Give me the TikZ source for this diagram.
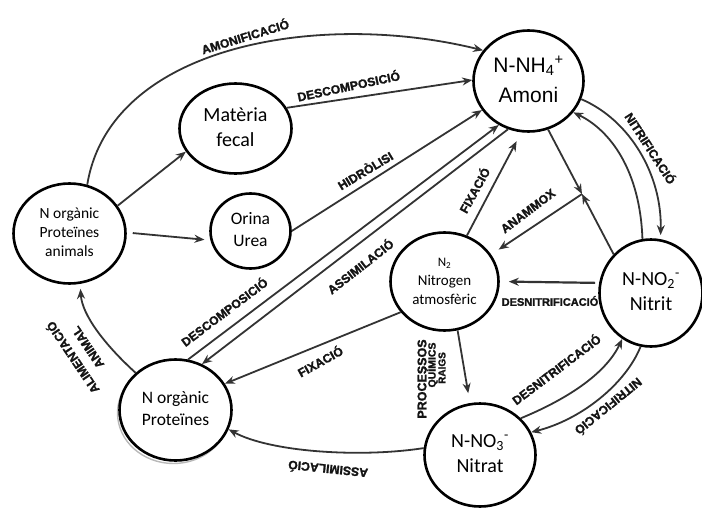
\documentclass[tikz,border=0pt]{standalone}
\usepackage{fontspec}
\setmainfont{Carlito}
\newfontfamily\arialfont{Liberation Sans}
\newfontfamily\tagfont{Liberation Sans Bold}[FakeBold=1.6]
\usetikzlibrary{shapes.geometric,arrows.meta}
\definecolor{flowgray}{HTML}{333333}
\definecolor{labelgray}{HTML}{141414}
% zero-width stacked lines, so the text never enlarges the ellipse
\newcommand\circtext[1]{\makebox[0pt]{\begin{tabular}{@{}c@{}}#1\end{tabular}}}
\begin{document}
\begin{tikzpicture}[x=1pt,y=-1pt]
\tikzset{
  state/.style={ellipse, draw=black, line width=2.6pt, inner sep=0pt, fill=white},
  flow/.style={draw=flowgray, line width=1.8pt, -{Stealth[length=10pt,width=8pt]}},
  lbl/.style={font=\tagfont\fontsize{12.2}{14}\selectfont, text=labelgray, inner sep=0pt},
}
\useasboundingbox (0,0) rectangle (702,509);

% ---- compartments ----
\node[state, minimum width=110pt, minimum height=101pt,
      font=\arialfont\fontsize{21}{30}\selectfont] (amoni) at (528.5,81)
      {\circtext{N-NH\textsubscript{4}\textsuperscript{+}\\Amoni}};
\node[state, minimum width=112pt, minimum height=90pt,
      font=\fontsize{20}{25}\selectfont] (fecal) at (235.5,128.5)
      {\circtext{Matèria\\fecal}};
\node[state, minimum width=80pt, minimum height=75pt,
      font=\fontsize{17.5}{22}\selectfont] (orina) at (250.5,231)
      {\circtext{Orina\\Urea}};
\node[state, minimum width=112pt, minimum height=100pt,
      font=\fontsize{15.5}{19}\selectfont] (animals) at (69.5,233.5)
      {\circtext{N orgànic\\Proteïnes\\animals}};
\node[state, minimum width=108pt, minimum height=98pt,
      font=\fontsize{15}{19}\selectfont] (n2) at (444.5,281.5)
      {\circtext{{\fontsize{13}{19}\selectfont N\textsubscript{2}}\\Nitrogen\\atmosfèric}};
\node[state, minimum width=103pt, minimum height=107pt,
      font=\fontsize{20}{25}\selectfont] (nitrit) at (651,293)
      {\circtext{N-NO\textsubscript{2}\textsuperscript{-}\\Nitrit}};
\node[state, minimum width=111pt, minimum height=103pt,
      font=\fontsize{20}{25}\selectfont] (nitrat) at (480,455)
      {\circtext{N-NO\textsubscript{3}\textsuperscript{-}\\Nitrat}};
% faint double rim under the proteins circle
\node[ellipse, draw=gray!55, line width=1.4pt, minimum width=112pt, minimum height=101pt]
      (protRim) at (173.5,413) {};
\node[state, minimum width=112pt, minimum height=101pt,
      font=\fontsize{17.5}{22}\selectfont] (prot) at (175.5,410)
      {\circtext{N orgànic\\Proteïnes}};

% ---- flows ----
\draw[flow] (animals.70) .. controls (110,45) and (320,10) .. (amoni.146);
\draw[flow] (fecal.22) -- (amoni.179);
\draw[flow] (animals.30) -- (fecal.205);
\draw[flow, shorten <=6pt, shorten >=6pt] (animals.1) -- (orina.193);
\draw[flow] (orina.0) -- (amoni.212);
\draw[flow] (prot.76) -- (amoni.236);
\draw[flow] (amoni.247) -- (prot.60);
\draw[flow, shorten >=10pt] (n2.64) -- (amoni.262);

\coordinate (jct) at (582,194);
\draw[flow] (amoni.292) -- (jct);
\draw[flow] (nitrit.134) -- (jct);
\draw[flow, shorten >=9pt] (jct) -- (n2.30);

\draw[flow, shorten >=4pt] (amoni.341) .. controls (630,120) and (662,175) .. (nitrit.80);
\draw[flow] (nitrit.99) .. controls (640,170) and (610,130) .. (amoni.325);
\draw[flow, line width=2.2pt, shorten <=4pt, shorten >=9pt] (nitrit.169) -- (n2.0);

\draw[flow, shorten >=10pt] (n2.285) -- (nitrat.101);
\draw[flow] (n2.215) -- (prot.28);
\draw[flow] (nitrat.42) .. controls (565,400) and (605,375) .. (nitrit.238);
\draw[flow] (nitrit.259) .. controls (625,385) and (580,420) .. (nitrat.24);
\draw[flow] (nitrat.173) .. controls (360,458) and (270,452) .. (prot.340);
\draw[flow, shorten >=5pt] (prot.137) .. controls (105,345) and (82,315) .. (animals.282);

% ---- process labels ----
\node[lbl, rotate=17] (tAmon) at (245,36) {AMONIFICACIÓ};
\node[lbl, rotate=12] (tDescA) at (348.5,85.5) {DESCOMPOSICIÓ};
\node[lbl, rotate=31] (tHidr) at (365,170) {HIDRÒLISI};
\node[lbl, rotate=37] (tDescB) at (224,311.5) {DESCOMPOSICIÓ};
\node[lbl, rotate=38] (tAssimA) at (360,266) {ASSIMILACIÓ};
\node[lbl, rotate=61] (tFixA) at (474,190) {FIXACIÓ};
\node[lbl, rotate=37] (tAnam) at (528,211) {ANAMMOX};
\node[lbl, rotate=-57] (tNitrA) at (651,148) {NITRIFICACIÓ};
\node[lbl, font=\tagfont\fontsize{11}{13}\selectfont] (tDesnA) at (550,301) {DESNITRIFICACIÓ};
\node[lbl, rotate=29] (tFixB) at (320,361) {FIXACIÓ};
\node[lbl, rotate=37] (tDesnB) at (556,369) {DESNITRIFICACIÓ};
\node[lbl, rotate=-141] (tNitrB) at (609,407) {NITRIFICACIÓ};
\node[lbl, rotate=174] (tAssimB) at (328,470) {ASSIMILACIÓ};
\node[lbl, rotate=124, align=center] (tAlim) at (79.5,353) {ALIMENTACIÓ\\[4pt]ANIMAL};
\node[lbl, rotate=90, font=\tagfont\fontsize{12.5}{14}\selectfont] (tProc) at (422,379) {PROCESSOS};
\node[lbl, rotate=90, font=\tagfont\fontsize{10.5}{12}\selectfont] (tQuim) at (432,365) {QUÍMICS};
\node[lbl, rotate=90, font=\tagfont\fontsize{10}{12}\selectfont] (tRaig) at (442,368) {RAIGS};
\end{tikzpicture}
\end{document}
